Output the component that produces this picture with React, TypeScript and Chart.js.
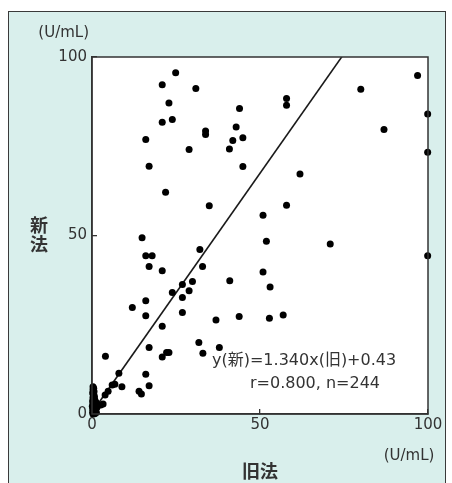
import React, { useEffect, useRef } from "react";
import { Chart, registerables } from "chart.js";

Chart.register(...registerables);

// 旧法 (x) and 新法 (y) values, U/mL
const oldMethod = [
  24.9, 20.9, 30.9, 22.9, 20.9, 23.9, 33.8, 33.8, 16.0, 28.9,
  17.0, 43.9, 42.9, 41.9, 44.9, 40.9, 57.9, 57.9, 44.9, 61.9,
  96.9, 80.0, 99.9, 86.9, 99.9, 57.9, 50.9, 51.9, 70.9, 99.9,
  50.9, 53.0, 34.9, 32.1, 32.9, 41.0, 21.9, 14.9, 16.0, 17.9,
  17.0, 20.9, 29.9, 26.9, 23.9, 28.9, 26.9, 16.0, 12.0, 16.0,
  26.9, 20.9, 17.0, 4.0, 22.2, 22.9, 20.9, 31.8, 33.0, 16.0,
  17.0, 8.0, 6.0, 6.8, 8.9, 4.8, 3.9, 14.0, 14.7, 3.3,
  2.6, 36.9, 43.8, 52.8, 56.9, 37.9,
  0.3, 0.6, 0.9, 0.4, 1.1, 0.2, 0.7, 0.4, 1.0, 0.3,
  0.6, 0.2, 0.9, 0.5, 0.3, 0.7, 0.4, 0.2, 0.6, 0.3,
  0.5, 0.3, 1.3, 1.5, 0.8, 0.5, 0.2, 1.2, 0.7, 0.4,
  0.8, 0.1, 0.5, 1.0, 0.3,
];
const newMethod = [
  95.6, 92.2, 91.2, 87.1, 81.7, 82.5, 79.3, 78.3, 76.9, 74.1,
  69.4, 85.6, 80.4, 76.6, 77.4, 74.2, 88.4, 86.5, 69.3, 67.2,
  94.8, 91.0, 84.0, 79.7, 73.3, 58.5, 55.7, 48.4, 47.6, 44.3,
  39.8, 35.6, 58.3, 46.1, 41.3, 37.3, 62.1, 49.4, 44.3, 44.3,
  41.3, 40.1, 37.1, 36.3, 34.0, 34.5, 32.6, 31.7, 29.8, 27.5,
  28.4, 24.6, 18.6, 16.2, 17.2, 17.2, 16.0, 20.0, 17.0, 11.1,
  7.9, 11.4, 8.1, 8.3, 7.6, 6.4, 5.3, 6.4, 5.6, 2.8,
  2.5, 26.3, 27.3, 26.8, 27.7, 18.6,
  0.0, 0.3, 0.6, 0.9, 1.1, 1.4, 1.7, 2.1, 2.4, 2.8,
  3.1, 3.5, 3.8, 4.2, 4.6, 5.0, 5.4, 5.9, 6.3, 6.8,
  7.2, 7.6, 0.4, 1.9, 2.9, 1.2, 0.5, 3.2, 4.4, 6.0,
  0.1, 2.2, 5.7, 1.5, 3.9,
];

// regression: y(新) = 1.340x(旧) + 0.43
const slope = 1.34;
const intercept = 0.43;
const axisMin = 0;
const axisMax = 100;
const xTicks = [0, 50, 100];
const yTicks = [0, 50, 100];

const equationText = "y(新)=1.340x(旧)+0.43";
const statsText = "r=0.800, n=244";
const xTitle = "旧法";
const yTitleChars = ["新", "法"];
const unitText = "(U/mL)";

const LATIN = "'DejaVu Sans', 'Noto Sans CJK JP', sans-serif";
const CJK = "'Noto Sans CJK JP', sans-serif";
const INK = "#333333";

const textPlugin = {
  id: "textPlugin",
  afterDraw(chart: any) {
    const { ctx, chartArea } = chart;
    const { left, right, top, bottom } = chartArea;
    ctx.save();
    // plot frame (top + right sides)
    ctx.strokeStyle = "#333";
    ctx.lineWidth = 1.5;
    ctx.strokeRect(left, top, right - left, bottom - top);

    ctx.fillStyle = INK;
    ctx.textBaseline = "middle";
    // y unit
    ctx.font = `15px ${LATIN}`;
    ctx.textAlign = "right";
    ctx.fillText(unitText, left - 3, top - 24);
    // x unit
    ctx.textAlign = "center";
    ctx.fillText(unitText, right - 19, bottom + 42);
    // x title
    ctx.font = `bold 18px ${CJK}`;
    ctx.fillText(xTitle, (left + right) / 2, bottom + 57);
    // y title (stacked)
    ctx.fillText(yTitleChars[0], 39, 225);
    ctx.fillText(yTitleChars[1], 39, 244);
    // regression annotation
    ctx.font = `16px ${LATIN}`;
    ctx.textAlign = "left";
    ctx.fillText(equationText, 212, 361);
    ctx.fillText(statsText, 250, 384);
    ctx.restore();
  },
};

export default function App() {
  const ref = useRef<HTMLCanvasElement | null>(null);

  useEffect(() => {
    if (!ref.current) return;
    const points = oldMethod.map((x, i) => ({ x, y: newMethod[i] }));
    const linePts = [
      { x: axisMin, y: slope * axisMin + intercept },
      { x: axisMax, y: slope * axisMax + intercept },
    ];
    const axisCommon = (ticksArr: number[]) => ({
      type: "linear" as const,
      min: axisMin,
      max: axisMax,
      afterBuildTicks: (s: any) => {
        s.ticks = ticksArr.map((v) => ({ value: v }));
      },
      grid: {
        display: true,
        drawOnChartArea: false,
        drawTicks: true,
        tickLength: -5,
        color: "#333",
        lineWidth: 1.3,
      },
      border: { display: true, color: "#333", width: 1.5 },
    });
    const chart = new Chart(ref.current, {
      type: "scatter",
      data: {
        datasets: [
          {
            label: "data",
            data: points,
            backgroundColor: "#000",
            borderColor: "#000",
            pointRadius: 3.5,
            pointBorderWidth: 0,
            clip: false as any,
          },
          {
            label: "regression",
            type: "line",
            data: linePts,
            borderColor: "#1a1a1a",
            borderWidth: 1.6,
            pointRadius: 0,
            showLine: true,
            fill: false,
            clip: 0 as any,
          } as any,
        ],
      },
      options: {
        animation: false,
        responsive: false,
        maintainAspectRatio: false,
        layout: { padding: { left: 0, top: 57, right: 24, bottom: 0 } },
        plugins: {
          legend: { display: false },
          tooltip: { enabled: false },
        },
        scales: {
          x: {
            ...axisCommon(xTicks),
            position: "bottom",
            ticks: {
              padding: 7,
              color: INK,
              font: { size: 15, family: LATIN },
              maxRotation: 0,
              autoSkip: false,
            },
            afterFit: (s: any) => {
              s.height = 69;
            },
          },
          y: {
            ...axisCommon(yTicks),
            position: "left",
            ticks: {
              padding: 10,
              color: INK,
              font: { size: 15, family: LATIN },
              autoSkip: false,
            },
            afterFit: (s: any) => {
              s.width = 92;
            },
          },
        },
      },
      plugins: [textPlugin],
    });
    return () => chart.destroy();
  }, []);

  return (
    <div
      style={{
        position: "fixed",
        left: 0,
        top: 0,
        width: 452,
        height: 483,
        background: "#ffffff",
        overflow: "hidden",
      }}
    >
      <div
        style={{
          position: "absolute",
          left: 8,
          top: 11,
          width: 438,
          height: 480,
          background: "#d9efec",
          border: "1.5px solid #3a3a3a",
          borderBottom: "none",
          boxSizing: "border-box",
        }}
      />
      <div
        style={{
          position: "absolute",
          left: 92,
          top: 57,
          width: 336,
          height: 357,
          background: "#ffffff",
        }}
      />
      <canvas
        ref={ref}
        width={452}
        height={483}
        style={{ position: "absolute", left: 0, top: 0, width: 452, height: 483 }}
      />
    </div>
  );
}
